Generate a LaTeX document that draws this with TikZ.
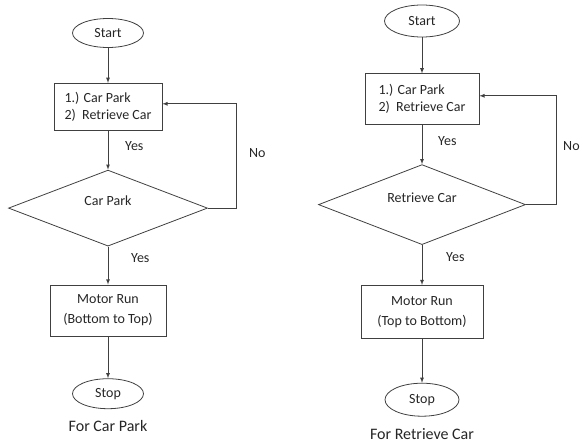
\documentclass[tikz,border=0pt]{standalone}
\usepackage{fontspec}
\setmainfont{Carlito}
\usepackage{tikz}
\usetikzlibrary{shapes.geometric, arrows, positioning}
\tikzstyle{startstop} = [ellipse, inner sep=0pt, draw=black!75, line width=0.8pt]
\tikzstyle{process} = [rectangle, inner sep=0pt, text centered, draw=black!75, line width=0.8pt]
\tikzstyle{decision} = [diamond, inner sep=0pt, text centered, draw=black!75, line width=0.8pt]
\tikzstyle{arrow} = [line width=0.8pt, draw=black!75, ->, >=latex]
\tikzstyle{answer} = [anchor=west, inner sep=0pt]
\tikzstyle{caption} = [inner sep=0pt, font=\fontsize{16}{19}\selectfont]

\begin{document}
\begin{tikzpicture}[x=1pt, y=1pt, font=\fontsize{14}{17}\selectfont, text=black!85]
    \useasboundingbox (0,0) rectangle (585,-445);

    % For Car Park
    \node (start1) [startstop, minimum width=71pt, minimum height=29pt] at (108,-33) {Start};
    \node (menu1) [process, minimum width=108pt, minimum height=47pt, align=left, below=35pt of start1] {1.) Car Park\\2)\ \ Retrieve Car};
    \node (dec1) [decision, minimum width=199pt, minimum height=76pt, below=39pt of menu1] {\raisebox{7pt}[\height][\depth]{Car Park}};
    \node (run1) [process, minimum width=116pt, minimum height=51pt, align=center, below=38pt of dec1] {Motor Run\\[3pt](Bottom to Top)};
    \node (stop1) [startstop, minimum width=71pt, minimum height=30pt, below=42pt of run1] {Stop};
    \node (cap1) [caption] at (108,-426) {For Car Park};
    \node (yes1a) [answer] at (125,-146) {Yes};
    \node (yes1b) [answer] at (131,-258) {Yes};
    \node (no1) [answer] at (249,-153) {No};

    \draw [arrow] (start1) -- (menu1);
    \draw [arrow] (menu1) -- (dec1);
    \draw [arrow] (dec1) -- (run1);
    \draw [arrow] (run1) -- (stop1);
    \draw [arrow] (dec1.east) -- ++(28,0) |- ([yshift=3pt]menu1.east);

    % For Retrieve Car
    \node (start2) [startstop, minimum width=75pt, minimum height=32pt] at (422,-21) {Start};
    \node (menu2) [process, minimum width=114pt, minimum height=51pt, align=left, below=36pt of start2] {1.) Car Park\\2)\ \ Retrieve Car};
    \node (dec2) [decision, minimum width=207pt, minimum height=80pt, below=39pt of menu2] {\raisebox{7pt}[\height][\depth]{Retrieve Car}};
    \node (run2) [process, minimum width=122pt, minimum height=53pt, align=center, below=40pt of dec2] {Motor Run\\[3pt](Top to Bottom)};
    \node (stop2) [startstop, minimum width=74pt, minimum height=33pt, below=44pt of run2] {Stop};
    \node (cap2) [caption] at (422,-434) {For Retrieve Car};
    \node (yes2a) [answer] at (438,-141) {Yes};
    \node (yes2b) [answer] at (446,-257) {Yes};
    \node (no2) [answer] at (563,-146) {No};

    \draw [arrow] (start2) -- (menu2);
    \draw [arrow] (menu2) -- (dec2);
    \draw [arrow] (dec2) -- (run2);
    \draw [arrow] (run2) -- (stop2);
    \draw [arrow] (dec2.east) -- ++(30,0) |- ([yshift=3.5pt]menu2.east);
\end{tikzpicture}
\end{document}
